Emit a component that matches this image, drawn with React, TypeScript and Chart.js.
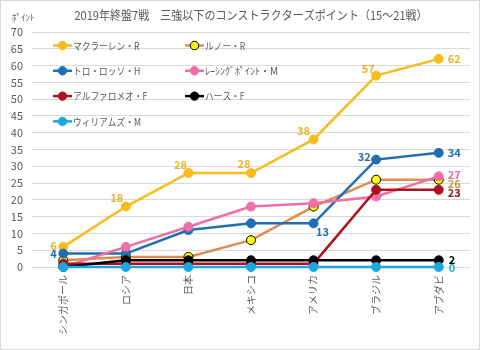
import React, { useEffect, useRef } from 'react';
import { Chart, registerables } from 'chart.js';

Chart.register(...registerables);

const chartTitle = '2019年終盤7戦　三強以下のコンストラクターズポイント（15～21戦）';
const yUnit = 'ﾎﾟｲﾝﾄ';
const categories = ['シンガポール', 'ロシア', '日本', 'メキシコ', 'アメリカ', 'ブラジル', 'アブダビ'];
const seriesNames = ['マクラーレン・R', 'ルノー・R', 'トロ・ロッソ・H', 'ﾚｰｼﾝｸﾞﾎﾟｲﾝﾄ・M', 'アルファロメオ・F', 'ハース・F', 'ウィリアムズ・M'];
const mclaren = [6, 18, 28, 28, 38, 57, 62];
const renault = [2, 3, 3, 8, 18, 26, 26];
const toroRosso = [4, 4, 11, 13, 13, 32, 34];
const racingPoint = [0, 6, 12, 18, 19, 21, 27];
const alfaRomeo = [1, 1, 1, 1, 1, 23, 23];
const haas = [0, 2, 2, 2, 2, 2, 2];
const williams = [0, 0, 0, 0, 0, 0, 0];
const yMax = 70;
const yStep = 5;

const seriesValues = [mclaren, renault, toroRosso, racingPoint, alfaRomeo, haas, williams];

const FONT = '"Noto Sans CJK JP", "Noto Sans", sans-serif';
const TEXT = '#595959';
const lineColors = ['#F5BC1C', '#DE8C50', '#1F6EB4', '#EE6FA6', '#AE1020', '#000000', '#1BA8E0'];
const markerFill = ['#F5BC1C', '#FFFF00', '#1F6EB4', '#EE6FA6', '#AE1020', '#000000', '#1BA8E0'];
const markerBorder = ['#F5BC1C', '#000000', '#1F6EB4', '#EE6FA6', '#AE1020', '#000000', '#1BA8E0'];
const labelColors = ['#EDB224', '#BF9B30', '#1F6EB4', '#E8649E', '#A0101E', '#000000', '#1BA8E0'];

// value labels: series index, point index, offset from point, alignment
const valueLabels: Array<{ s: number; i: number; dx: number; dy: number; align: CanvasTextAlign }> = [
  { s: 0, i: 0, dx: -6.5, dy: -1, align: 'right' },
  { s: 0, i: 1, dx: -9, dy: -9, align: 'center' },
  { s: 0, i: 2, dx: -8, dy: -8, align: 'center' },
  { s: 0, i: 3, dx: -7, dy: -9, align: 'center' },
  { s: 0, i: 4, dx: -10, dy: -9, align: 'center' },
  { s: 0, i: 5, dx: -8, dy: -7, align: 'center' },
  { s: 0, i: 6, dx: 9, dy: 0, align: 'left' },
  { s: 2, i: 0, dx: -6.5, dy: 0, align: 'right' },
  { s: 2, i: 4, dx: 9, dy: 8, align: 'center' },
  { s: 2, i: 5, dx: -12, dy: -3, align: 'center' },
  { s: 2, i: 6, dx: 9, dy: 0, align: 'left' },
  { s: 3, i: 6, dx: 9, dy: -2, align: 'left' },
  { s: 1, i: 6, dx: 9, dy: 4, align: 'left' },
  { s: 4, i: 6, dx: 9, dy: 3, align: 'left' },
  { s: 5, i: 6, dx: 10, dy: 0, align: 'left' },
  { s: 6, i: 6, dx: 10, dy: 1, align: 'left' },
];

const HALF_WIDTH_KANA = /[\uFF61-\uFF9F]/;

function drawNarrowText(ctx: CanvasRenderingContext2D, text: string, x: number, y: number, sx: number) {
  ctx.save();
  ctx.translate(x, y);
  ctx.scale(sx, 1);
  ctx.fillText(text, 0, 0);
  ctx.restore();
}

const overlayPlugin = {
  id: 'overlay',
  afterDatasetsDraw(chart: any) {
    const ctx: CanvasRenderingContext2D = chart.ctx;
    ctx.save();
    ctx.font = `bold 11px ${FONT}`;
    ctx.textBaseline = 'middle';
    valueLabels.forEach((l) => {
      const meta = chart.getDatasetMeta(l.s);
      const pt = meta.data[l.i];
      if (!pt) return;
      ctx.fillStyle = labelColors[l.s];
      ctx.textAlign = l.align;
      ctx.fillText(String(seriesValues[l.s][l.i]), pt.x + l.dx, pt.y + l.dy);
    });
    ctx.restore();
  },
  afterDraw(chart: any) {
    const ctx: CanvasRenderingContext2D = chart.ctx;
    const area = chart.chartArea;
    const xScale = chart.scales.x;
    ctx.save();
    // category labels, rotated, reading bottom to top
    ctx.fillStyle = TEXT;
    ctx.font = `10px ${FONT}`;
    categories.forEach((c, i) => {
      const x = xScale.getPixelForTick(i);
      ctx.save();
      ctx.translate(x, area.bottom + 8);
      ctx.rotate(-Math.PI / 2);
      ctx.textAlign = 'right';
      ctx.textBaseline = 'middle';
      ctx.fillText(c, 0, 0);
      ctx.restore();
    });
    // title
    ctx.font = `12px ${FONT}`;
    ctx.textAlign = 'center';
    ctx.textBaseline = 'middle';
    drawNarrowText(ctx, chartTitle, (area.left + area.right) / 2, 14, 0.92);
    // y unit
    ctx.font = `9px ${FONT}`;
    ctx.textAlign = 'left';
    ctx.fillText(yUnit, 11, 17);
    // legend
    const rowH = 25.3;
    const colX = [area.left + 21, area.left + 153];
    ctx.font = `10px ${FONT}`;
    seriesNames.forEach((name, k) => {
      const col = k % 2;
      const row = Math.floor(k / 2);
      const x0 = colX[col];
      const y = area.top + 13.5 + row * rowH;
      ctx.strokeStyle = lineColors[k];
      ctx.lineWidth = 2.5;
      ctx.beginPath();
      ctx.moveTo(x0, y);
      ctx.lineTo(x0 + 19, y);
      ctx.stroke();
      ctx.beginPath();
      ctx.arc(x0 + 9.5, y, 4.2, 0, Math.PI * 2);
      ctx.fillStyle = markerFill[k];
      ctx.fill();
      ctx.lineWidth = 1;
      ctx.strokeStyle = markerBorder[k];
      ctx.stroke();
      ctx.fillStyle = TEXT;
      ctx.textAlign = 'left';
      ctx.textBaseline = 'middle';
      drawNarrowText(ctx, name, x0 + 20, y + 0.5, HALF_WIDTH_KANA.test(name) ? 1 : 0.87);
    });
    ctx.restore();
  },
};

export default function App() {
  const canvasRef = useRef<HTMLCanvasElement | null>(null);

  useEffect(() => {
    document.body.style.margin = '0';
    Chart.defaults.font.family = FONT;
    const canvas = canvasRef.current;
    if (!canvas) return;
    const chart = new Chart(canvas, {
      type: 'line',
      data: {
        labels: categories,
        datasets: seriesValues.map((vals, k) => ({
          label: seriesNames[k],
          data: vals,
          borderColor: lineColors[k],
          backgroundColor: markerFill[k],
          pointBackgroundColor: markerFill[k],
          pointBorderColor: markerBorder[k],
          pointBorderWidth: 1,
          pointRadius: 4.5,
          borderWidth: 2.5,
          tension: 0,
          fill: false,
          clip: false,
          order: seriesValues.length - 1 - k,
        })),
      },
      options: {
        animation: false,
        responsive: true,
        maintainAspectRatio: false,
        layout: { padding: { top: 31, right: 9, bottom: 0, left: 0 } },
        plugins: {
          legend: { display: false },
          title: { display: false },
          tooltip: { enabled: false },
        },
        scales: {
          x: {
            offset: true,
            grid: { display: false, drawTicks: false },
            border: { display: false },
            ticks: { display: false, autoSkip: false },
            afterFit(scale: any) {
              scale.height = 82;
            },
          },
          y: {
            min: 0,
            max: yMax,
            grid: { color: '#D9D9D9', lineWidth: 1, drawTicks: false },
            border: { display: false },
            ticks: {
              stepSize: yStep,
              color: TEXT,
              font: { size: 11, family: FONT },
              padding: 9,
            },
            afterFit(scale: any) {
              scale.width = 31;
            },
          },
        },
      },
      plugins: [overlayPlugin],
    });
    return () => chart.destroy();
  }, []);

  return (
    <div
      style={{
        width: 480,
        height: 350,
        boxSizing: 'border-box',
        border: '1px solid #D9D9D9',
        background: '#FFFFFF',
        position: 'relative',
      }}
    >
      <div style={{ position: 'relative', width: 478, height: 348 }}>
        <canvas ref={canvasRef} />
      </div>
    </div>
  );
}
